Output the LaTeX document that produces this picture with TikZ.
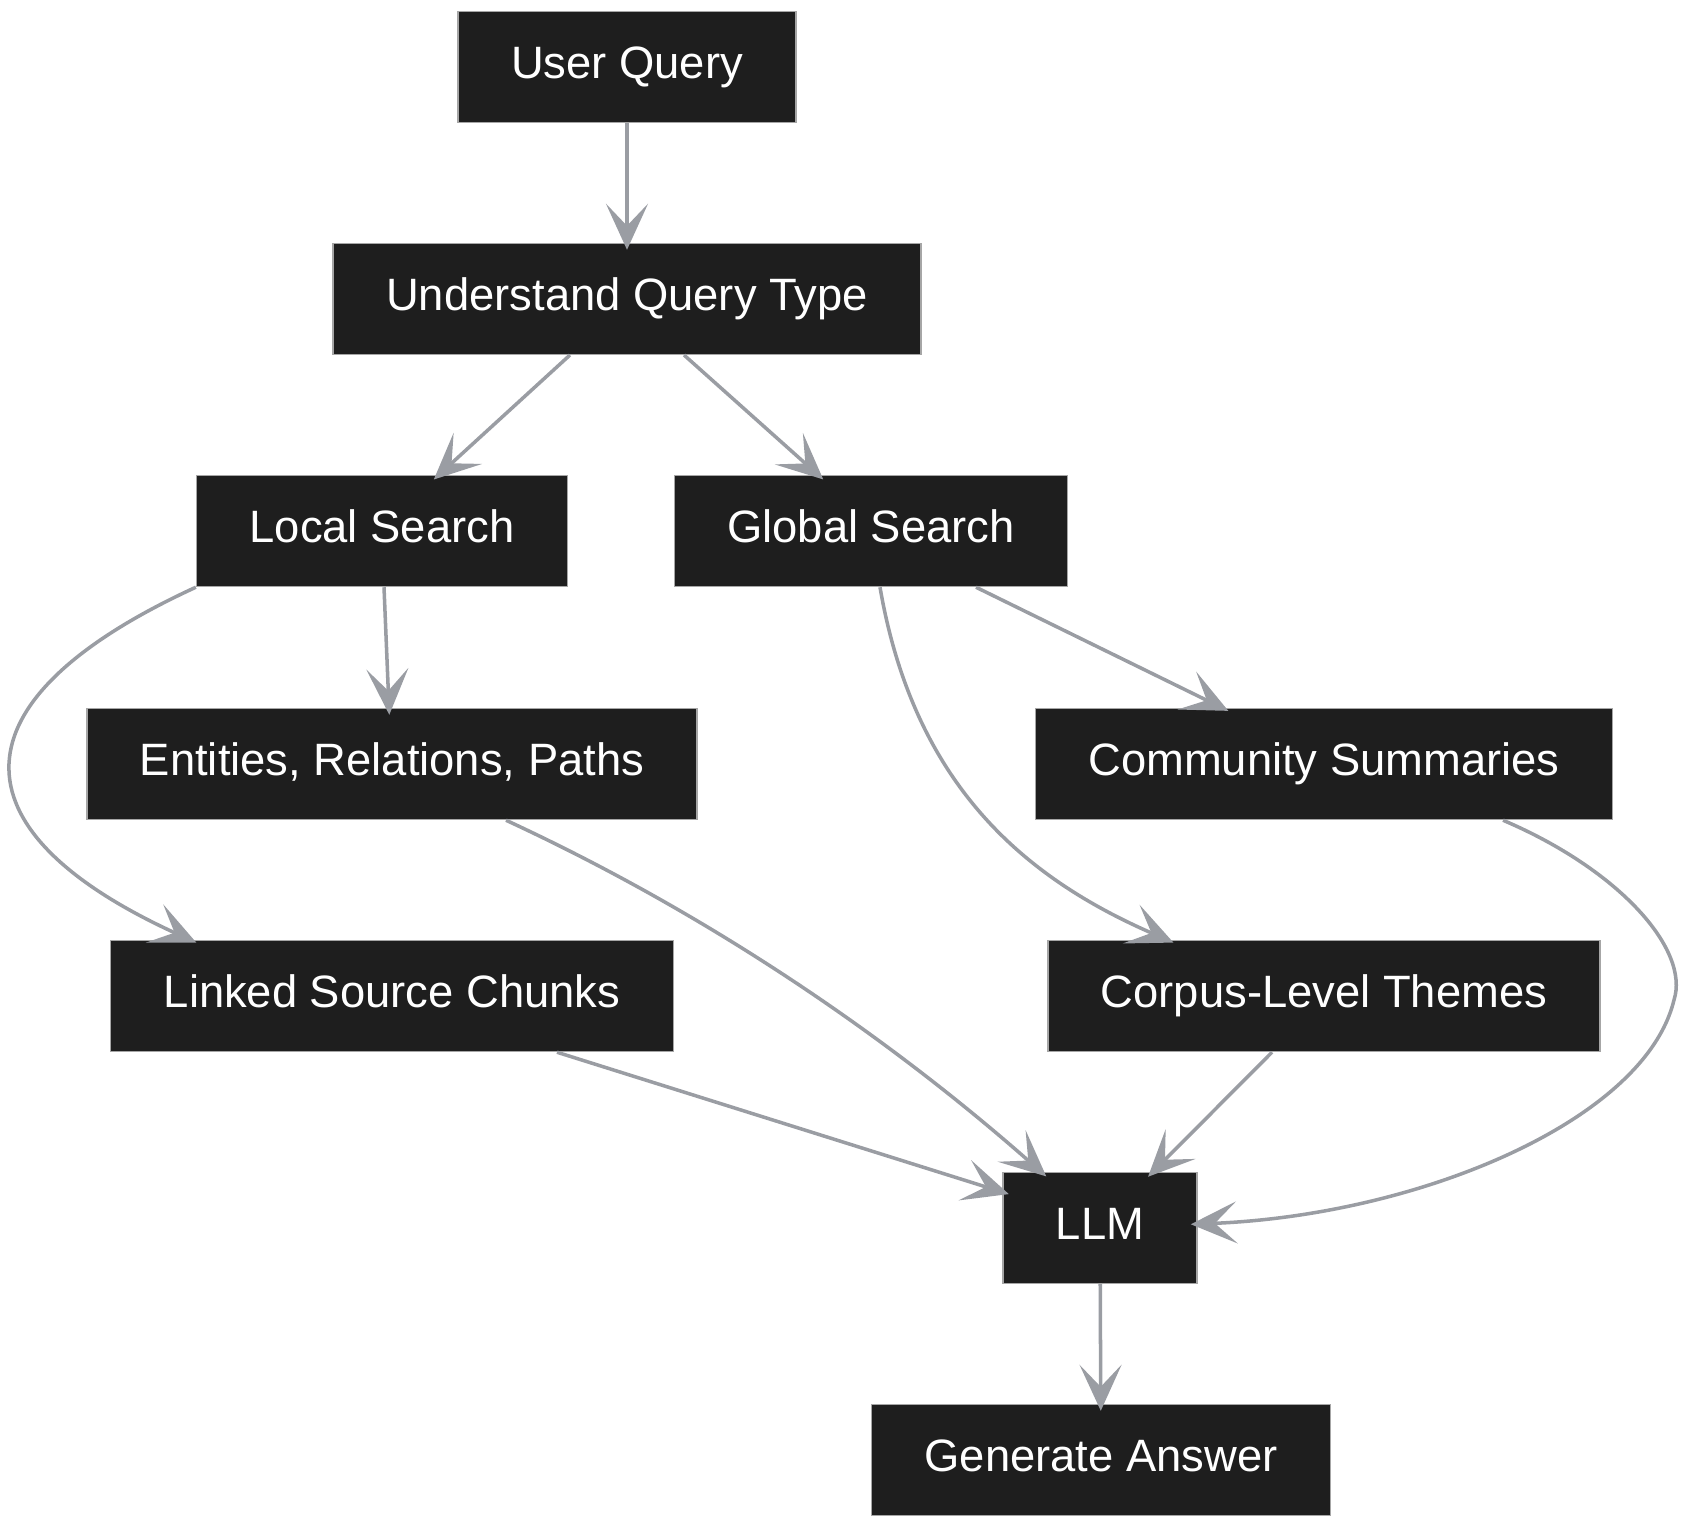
\documentclass[tikz,border=0pt]{standalone}
\usepackage{fontspec}
\setmainfont{Liberation Sans}
\usetikzlibrary{positioning}
\usetikzlibrary{arrows.meta}
\definecolor{boxfill}{HTML}{1E1E1E}
\definecolor{edgegray}{HTML}{9A9DA3}
\tikzset{box/.style = {fill=boxfill, draw=gray!70, line width=0.4pt,
                       text=white, inner xsep=0.53cm, inner ysep=0pt,
                       minimum height=1.11cm, text height=0.78em,
                       text depth=0.15em,
                       font=\fontsize{12.9}{15}\selectfont}}
\tikzset{flow/.style = {draw=edgegray, line width=1pt, shorten >=-2pt,
                        -{Stealth[length=4.6mm, width=4.2mm, inset=2.2mm]}}}

\begin{document}
\begin{tikzpicture}[x=0.01cm, y=-0.01cm]
      \useasboundingbox (0,0) rectangle (1687,1528);
      \node[box] (query) at (627,67) {User Query};
      \node[box] (type) at (627,299) {Understand Query Type};
      \node[box] (local) at (382,531) {Local Search};
      \node[box] (global) at (871,531) {Global Search};
      \node[box] (ent) at (392,764) {Entities, Relations, Paths};
      \node[box] (comm) at (1324,764) {Community Summaries};
      \node[box] (chunks) at (392,996) {Linked Source Chunks};
      \node[box] (themes) at (1324,996) {Corpus-Level Themes};
      \node[box] (llm) at (1100,1228) {LLM};
      \node[box] (answer) at (1101,1460) {Generate Answer};
      % edges
      \draw[flow] (query) -- (type);
      \draw[flow] (570,355) -- (local.north -| 439,0);
      \draw[flow] (684,355) -- (global.north -| 818,0);
      \draw[flow] (local.south -| 384,0) -- (ent.north -| 389,0);
      \draw[flow] (local.south west) .. controls (-50,700) and (-50,830)
        .. (chunks.north -| 190,0);
      \draw[flow] (ent.south -| 506,0) .. controls (700,910) and (880,1030)
        .. (llm.north -| 1041,0);
      \draw[flow] (chunks.south -| 557,0) -- (llm.west |- 0,1192);
      \draw[flow] (global.south -| 976,0) -- (comm.north -| 1222,0);
      \draw[flow] (global.south -| 880,0) .. controls (915,790) and (1030,880)
        .. (themes.north -| 1167,0);
      \draw[flow] (comm.south -| 1503,0) .. controls (1620,870) and (1690,950)
        .. (1674,1000) .. controls (1645,1120) and (1420,1215)
        .. (llm.east |- 0,1224);
      \draw[flow] (themes.south -| 1272,0) -- (llm.north -| 1153,0);
      \draw[flow] (llm) -- (answer);
    \end{tikzpicture}
\end{document}
